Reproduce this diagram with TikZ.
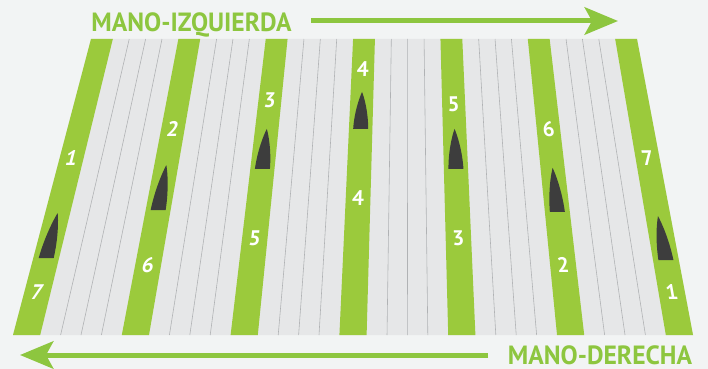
\documentclass[tikz,border=0pt]{standalone}
\usepackage{fontspec}
\setmainfont{PT Sans}
\usetikzlibrary{arrows.meta, calc}

\definecolor{fondo}{HTML}{F2F4F4}
\definecolor{campo}{HTML}{E6E7E8}
\definecolor{surco}{HTML}{B0B2B4}
\definecolor{verde}{HTML}{9BCA3C}
\definecolor{verdeflecha}{HTML}{8DC63F}
\definecolor{planta}{HTML}{3D3D3D}

\begin{document}
\begin{tikzpicture}[
    x=0.03cm, y=-0.03cm,
    titulo/.style={font=\fontsize{22.5}{22.5}\selectfont\bfseries, text=verdeflecha, inner sep=0pt, anchor=base, xscale=0.97},
    num/.style={font=\fontsize{18}{18}\selectfont\bfseries, text=white, inner sep=0pt},
    franja/.style={fill=verde},
    linea/.style={draw=surco, line width=0.5pt},
    cono/.style={fill=planta},
    flecha/.style={draw=verdeflecha, line width=0.15cm, -{Stealth[length=1cm, width=0.82cm, inset=0.22cm]}}
]
\path[use as bounding box, fill=fondo] (0,0) rectangle (708,369);
\coordinate (TL) at (91,39);
\coordinate (TR) at (637,39);
\coordinate (BL) at (13,335);
\coordinate (BR) at (693,335);
\fill[campo] (TL) -- (TR) -- (BR) -- (BL) -- cycle;
\foreach \i in {0,...,5}
  \foreach \k in {0.07,0.10,0.13} {
    \pgfmathsetmacro{\u}{0.16*\i+\k}
    \draw[linea] ($(TL)!\u!(TR)$) -- ($(BL)!\u!(BR)$);
  }
\foreach \i/\ta/\tb/\tp/\h in {1/0.402/0.855/0.74/45, 2/0.304/0.764/0.578/45, 3/0.206/0.672/0.439/40, 4/0.101/0.537/0.304/37, 5/0.22/0.672/0.439/40, 6/0.304/0.764/0.584/44, 7/0.402/0.855/0.747/44} {
  \pgfmathsetmacro{\ua}{0.16*(\i-1)}
  \pgfmathsetmacro{\ub}{\ua+0.04}
  \pgfmathsetmacro{\uc}{\ua+0.02}
  \pgfmathsetmacro{\sl}{(78-134*\uc)/296}
  \pgfmathtruncatemacro{\j}{8-\i}
  \fill[franja] ($(TL)!\ua!(TR)$) -- ($(TL)!\ub!(TR)$) -- ($(BL)!\ub!(BR)$) -- ($(BL)!\ua!(BR)$) -- cycle;
  \coordinate (s\i a) at ($(TL)!\uc!(TR)$);
  \coordinate (s\i b) at ($(BL)!\uc!(BR)$);
  \node[num, xslant=\sl] (n\i a) at ($(s\i a)!\ta!(s\i b)$) {\i};
  \node[num, xslant=\sl] (n\i b) at ($(s\i a)!\tb!(s\i b)$) {\j};
  \begin{scope}[shift={($(s\i a)!\tp!(s\i b)$)}, xslant=\sl]
    \fill[cono] (-7.5,0) .. controls (-7,-0.45*\h) and (-2.5,-0.85*\h) .. (0,-\h) .. controls (2.5,-0.85*\h) and (7,-0.45*\h) .. (7.5,0) -- cycle;
  \end{scope}
}
\node[titulo] (izq) at (191.5,32) {MANO-IZQUIERDA};
\node[titulo] (der) at (600,364) {MANO-DERECHA};
\coordinate (izqA) at (311,21);
\coordinate (izqB) at (618,21);
\coordinate (derA) at (488,355);
\coordinate (derB) at (20,355);
\draw[flecha] (izqA) -- (izqB);
\draw[flecha] (derA) -- (derB);
\end{tikzpicture}
\end{document}
